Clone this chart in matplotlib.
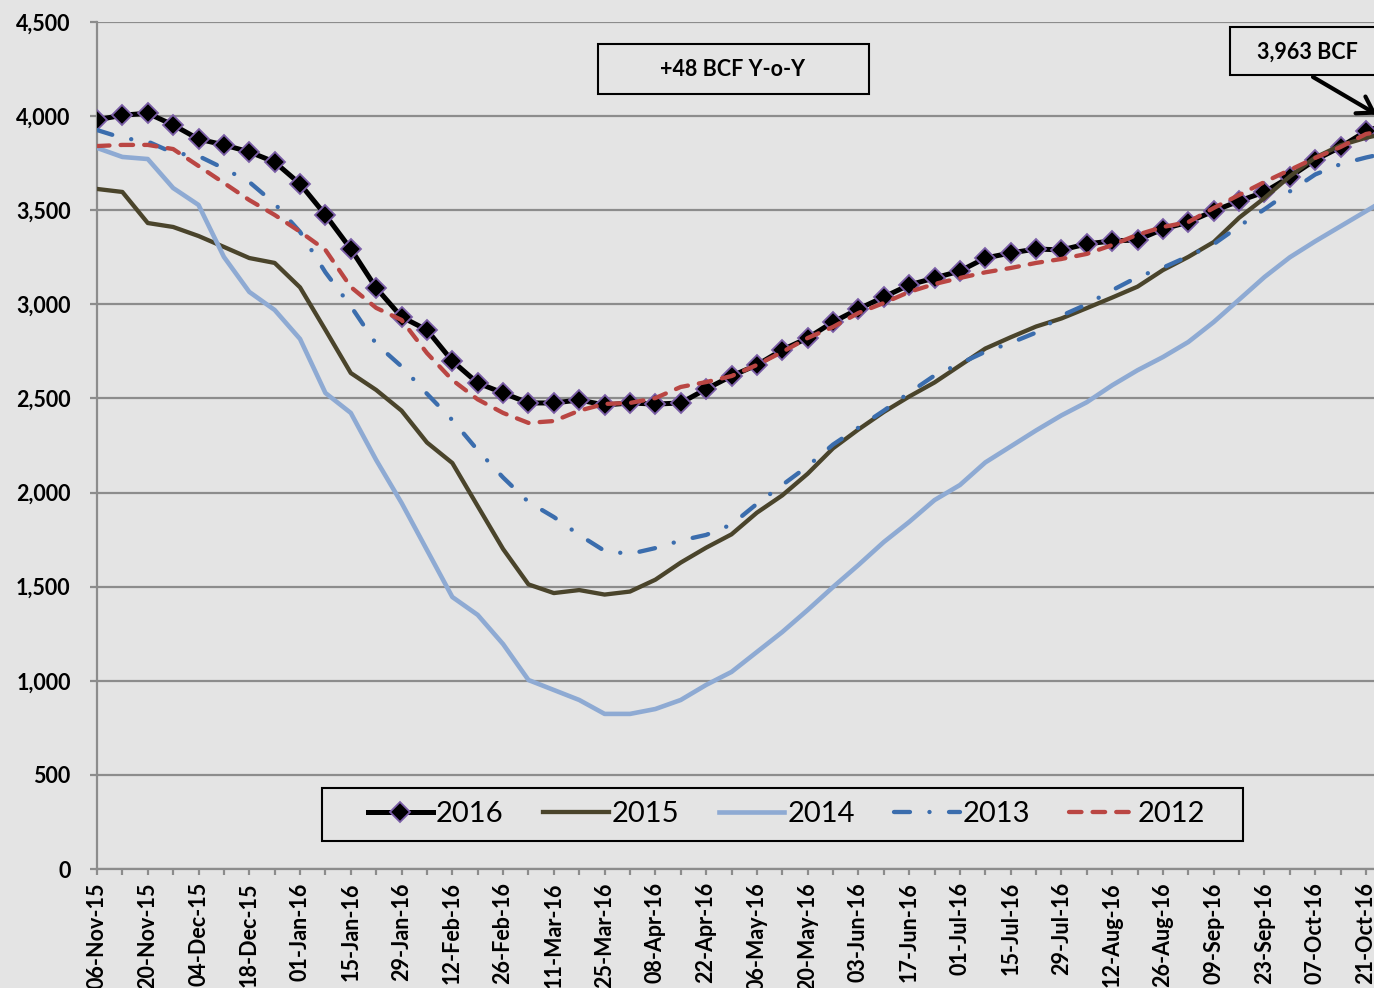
import numpy as np
import matplotlib
matplotlib.use("Agg")
import matplotlib.pyplot as plt
from matplotlib.patches import Rectangle
from matplotlib.ticker import FuncFormatter

# Weekly working gas in storage (BCF), storage years Nov -> Oct, weeks ending 06-Nov .. 28-Oct
storage_2016 = [3980, 4005, 4015, 3953, 3878, 3847, 3810, 3756, 3640, 3475,
                3294, 3087, 2933, 2864, 2699, 2582, 2529, 2476, 2476, 2492,
                2465, 2476, 2470, 2476, 2550, 2619, 2678, 2758, 2821, 2906,
                2975, 3039, 3103, 3140, 3177, 3246, 3273, 3294, 3289, 3321,
                3337, 3342, 3400, 3437, 3496, 3549, 3597, 3677, 3767, 3836,
                3920, 3963]
storage_2015 = [3613, 3597, 3432, 3411, 3363, 3305, 3246, 3220, 3090, 2864,
                2635, 2545, 2435, 2266, 2157, 1928, 1700, 1512, 1466, 1482,
                1458, 1474, 1537, 1628, 1707, 1778, 1893, 1985, 2100, 2235,
                2335, 2428, 2510, 2585, 2675, 2765, 2825, 2882, 2925, 2980,
                3036, 3094, 3182, 3252, 3331, 3460, 3565, 3680, 3780, 3845,
                3885, 3915]
storage_2014 = [3831, 3783, 3772, 3618, 3528, 3252, 3066, 2970, 2816, 2529,
                2423, 2173, 1945, 1695, 1445, 1350, 1195, 1004, 951, 898,
                824, 824, 850, 898, 978, 1047, 1153, 1259, 1376, 1498,
                1615, 1737, 1844, 1960, 2040, 2160, 2245, 2330, 2410, 2480,
                2570, 2650, 2720, 2800, 2906, 3025, 3145, 3250, 3335, 3415,
                3495, 3575]
storage_2013 = [3926, 3884, 3865, 3805, 3788, 3722, 3650, 3535, 3385, 3170,
                2990, 2790, 2670, 2525, 2385, 2225, 2080, 1950, 1870, 1775,
                1690, 1674, 1705, 1745, 1775, 1830, 1940, 2040, 2140, 2255,
                2345, 2435, 2530, 2622, 2685, 2748, 2795, 2850, 2940, 3000,
                3075, 3145, 3195, 3255, 3320, 3415, 3505, 3600, 3690, 3745,
                3780, 3810]
storage_2012 = [3841, 3847, 3847, 3825, 3735, 3645, 3554, 3475, 3386, 3289,
                3092, 2981, 2917, 2741, 2598, 2495, 2423, 2370, 2380, 2435,
                2471, 2476, 2502, 2561, 2587, 2619, 2678, 2747, 2821, 2880,
                2954, 3007, 3066, 3108, 3140, 3170, 3193, 3220, 3241, 3268,
                3315, 3370, 3411, 3437, 3512, 3581, 3650, 3714, 3778, 3836,
                3905, 3930]

series_names = ["2016", "2015", "2014", "2013", "2012"]

# Category labels, one every second week
week_labels = ["06-Nov-15", "20-Nov-15", "04-Dec-15", "18-Dec-15", "01-Jan-16",
               "15-Jan-16", "29-Jan-16", "12-Feb-16", "26-Feb-16", "11-Mar-16",
               "25-Mar-16", "08-Apr-16", "22-Apr-16", "06-May-16", "20-May-16",
               "03-Jun-16", "17-Jun-16", "01-Jul-16", "15-Jul-16", "29-Jul-16",
               "12-Aug-16", "26-Aug-16", "09-Sep-16", "23-Sep-16", "07-Oct-16",
               "21-Oct-16"]

BG = "#E4E4E4"
GRID = "#8C8C8C"
W, H = 1374, 988

plt.rcParams["font.family"] = ["Lato", "DejaVu Sans"]
plt.rcParams["lines.scale_dashes"] = False

fig = plt.figure(figsize=(W / 100, H / 100), dpi=100, facecolor=BG)
week_px = 25.38
ax = fig.add_axes([97 / W, 1 - 869 / H, 52 * week_px / W, (869 - 22) / H])
ax.set_facecolor(BG)

weeks = np.arange(len(storage_2016))

ax.plot(weeks, storage_2016, color="black", lw=3.6, marker="D", ms=10.5,
        mfc="black", mec="#7B5EA7", mew=1.3, label=series_names[0], zorder=3)
ax.plot(weeks, storage_2015, color="#4A442B", lw=3.1, label=series_names[1], zorder=3)
ax.plot(weeks, storage_2014, color="#8EAAD3", lw=3.3, label=series_names[2], zorder=3)
ax.plot(weeks, storage_2013, color="#3B6DAD", lw=3.1, dashes=(11.5, 14.0, 0.1, 14.0),
        dash_capstyle="round", label=series_names[3], zorder=3)
ax.plot(weeks, storage_2012, color="#BA4643", lw=3.1, dashes=(9.0, 8.0),
        dash_capstyle="round", label=series_names[4], zorder=3)

ax.set_xlim(0, 52)
ax.set_ylim(0, 4500)
ax.set_yticks(np.arange(0, 4501, 500))
ax.yaxis.set_major_formatter(FuncFormatter(lambda v, p: f"{int(v):,}"))
ax.grid(axis="y", color=GRID, lw=1.6)
ax.set_axisbelow(True)

for side in ("top", "right"):
    ax.spines[side].set_visible(False)
for side in ("left", "bottom"):
    ax.spines[side].set_color(GRID)
    ax.spines[side].set_linewidth(1.6)

ax.set_xticks(weeks)
xlabels = [week_labels[i // 2] if i % 2 == 0 and i // 2 < len(week_labels) else "" for i in weeks]
ax.set_xticklabels(xlabels, rotation=90, fontweight="bold", fontsize=15.5)
for lbl in ax.get_yticklabels():
    lbl.set_fontweight("bold")
ax.tick_params(axis="y", length=5, width=1.6, color=GRID, pad=14, labelsize=15.5)
ax.tick_params(axis="x", length=4.5, width=1.6, color=GRID, pad=5)

# Legend frame box, then the legend entries on top of it
fig.add_artist(Rectangle((322 / W, 1 - 841 / H), 921 / W, 53 / H,
                         transform=fig.transFigure, fc=BG, ec="black", lw=1.5,
                         zorder=4))
handles, labels = ax.get_legend_handles_labels()
leg = fig.legend(handles, labels, loc="center",
                 bbox_to_anchor=(786.5 / W, 1 - 814 / H),
                 bbox_transform=fig.transFigure, ncol=5, frameon=False,
                 prop={"size": 21}, handlelength=2.25, handletextpad=0.1,
                 columnspacing=1.35, borderpad=0.3, borderaxespad=0)
leg.set_zorder(5)

# Year-over-year change box
yoy = storage_2016[-1] - storage_2015[-1]
fig.add_artist(Rectangle((598 / W, 1 - 94 / H), 271 / W, 50 / H,
                         transform=fig.transFigure, fill=False, ec="black", lw=1.5))
fig.text(733 / W, 1 - 69 / H, f"{yoy:+d} BCF Y-o-Y", ha="center", va="center",
         fontsize=15.5, fontweight="bold")

# Latest storage level callout
fig.add_artist(Rectangle((1230 / W, 1 - 75 / H), 170 / W, 48 / H,
                         transform=fig.transFigure, fc=BG, ec="black", lw=1.5))
fig.text(1307 / W, 1 - 52 / H, f"{storage_2016[-1]:,} BCF", ha="center", va="center",
         fontsize=15.5, fontweight="bold")
ax.annotate("", xy=(weeks[-1], storage_2016[-1]), xycoords="data",
            xytext=(1313 / W, 1 - 77 / H), textcoords="figure fraction",
            annotation_clip=False,
            arrowprops=dict(arrowstyle="->,head_length=0.55,head_width=0.35",
                            mutation_scale=20, lw=3, color="black",
                            shrinkA=0, shrinkB=12))

fig.savefig("out.png", dpi=100, facecolor=BG)
